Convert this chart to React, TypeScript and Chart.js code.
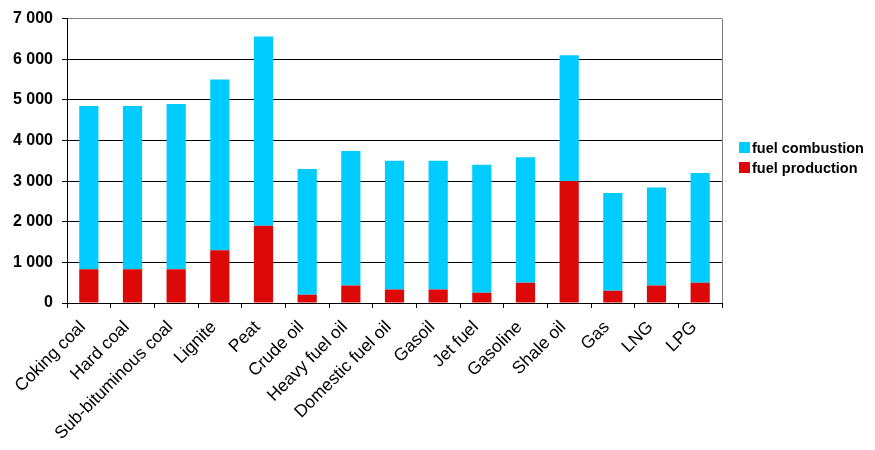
import React, { useEffect, useRef } from "react";
import { Chart, registerables } from "chart.js";

Chart.register(...registerables);

const categories = [
  "Coking coal", "Hard coal", "Sub-bituminous coal", "Lignite", "Peat",
  "Crude oil", "Heavy fuel oil", "Domestic fuel oil", "Gasoil", "Jet fuel",
  "Gasoline", "Shale oil", "Gas", "LNG", "LPG",
];
const totals = [4850, 4850, 4900, 5500, 6560, 3300, 3740, 3500, 3500, 3400, 3590, 6100, 2710, 2840, 3200];
const fuelProduction = [830, 830, 830, 1300, 1900, 200, 430, 330, 330, 250, 500, 3000, 300, 430, 500];
const fuelCombustion = totals.map((t, i) => t - fuelProduction[i]);
const yMax = 7000;
const yStep = 1000;

const BLUE = "#00CCFF";
const RED = "#DD0808";
const FONT = "'Liberation Sans', Arial, sans-serif";

const borderPlugin = {
  id: "rightBorder",
  afterDatasetsDraw(chart: any) {
    const { ctx, chartArea } = chart;
    ctx.save();
    ctx.strokeStyle = "#808080";
    ctx.lineWidth = 1;
    ctx.beginPath();
    const x = Math.round(chartArea.right) + 0.5;
    ctx.moveTo(x, chartArea.top);
    ctx.lineTo(x, chartArea.bottom);
    ctx.stroke();
    ctx.restore();
  },
};

export default function App() {
  const ref = useRef<HTMLCanvasElement>(null);
  useEffect(() => {
    document.body.style.margin = "0";
    const chart = new Chart(ref.current!, {
      type: "bar",
      data: {
        labels: categories,
        datasets: [
          { label: "fuel production", data: fuelProduction, backgroundColor: RED, stack: "s" },
          { label: "fuel combustion", data: fuelCombustion, backgroundColor: BLUE, stack: "s" },
        ],
      },
      options: {
        animation: false,
        responsive: false,
        maintainAspectRatio: false,
        layout: { padding: { top: 15, right: 153, left: 0, bottom: 0 } },
        plugins: { legend: { display: false }, tooltip: { enabled: false } },
        datasets: { bar: { categoryPercentage: 1, barPercentage: 0.44 } },
        scales: {
          x: {
            stacked: true,
            afterFit: (s: any) => { s.height = 147; },
            grid: {
              display: true,
              offset: true,
              drawOnChartArea: false,
              drawTicks: true,
              tickLength: 5,
              color: "#000",
            },
            border: { display: true, color: "#000", width: 1 },
            ticks: {
              minRotation: 45,
              maxRotation: 45,
              autoSkip: false,
              padding: 9,
              labelOffset: -6,
              color: "#000",
              font: { family: FONT, size: 17.5 },
            },
          },
          y: {
            stacked: true,
            min: 0,
            max: yMax,
            afterFit: (s: any) => { s.width = 67; },
            grid: {
              color: (c: any) => (c.tick && c.tick.value === yMax ? "#808080" : "#000"),
              tickColor: "#000",
              tickLength: 5,
              drawTicks: true,
            },
            border: { display: true, color: "#000", width: 1 },
            ticks: {
              stepSize: yStep,
              padding: 9,
              color: "#000",
              font: { family: FONT, size: 16, weight: "bold" },
              callback: (v: any) => {
                const n = Number(v);
                return n >= 1000 ? `${Math.floor(n / 1000)} ${String(n % 1000).padStart(3, "0")}` : String(n);
              },
            },
          },
        },
      },
      plugins: [borderPlugin],
    });
    return () => chart.destroy();
  }, []);

  const legendItems = [
    { label: "fuel combustion", color: BLUE, top: 142 },
    { label: "fuel production", color: RED, top: 162 },
  ];

  return (
    <div style={{ position: "relative", width: 875, height: 450, background: "#fff" }}>
      <canvas ref={ref} width={875} height={450} style={{ display: "block" }} />
      {legendItems.map((it) => (
        <div
          key={it.label}
          style={{
            position: "absolute",
            left: 739,
            top: it.top,
            height: 11,
            display: "flex",
            alignItems: "center",
            whiteSpace: "nowrap",
            fontFamily: FONT,
            fontWeight: "bold",
            fontSize: 14.5,
            color: "#000",
          }}
        >
          <span style={{ display: "inline-block", width: 11, height: 11, background: it.color, marginRight: 2 }} />
          <span>{it.label}</span>
        </div>
      ))}
    </div>
  );
}
